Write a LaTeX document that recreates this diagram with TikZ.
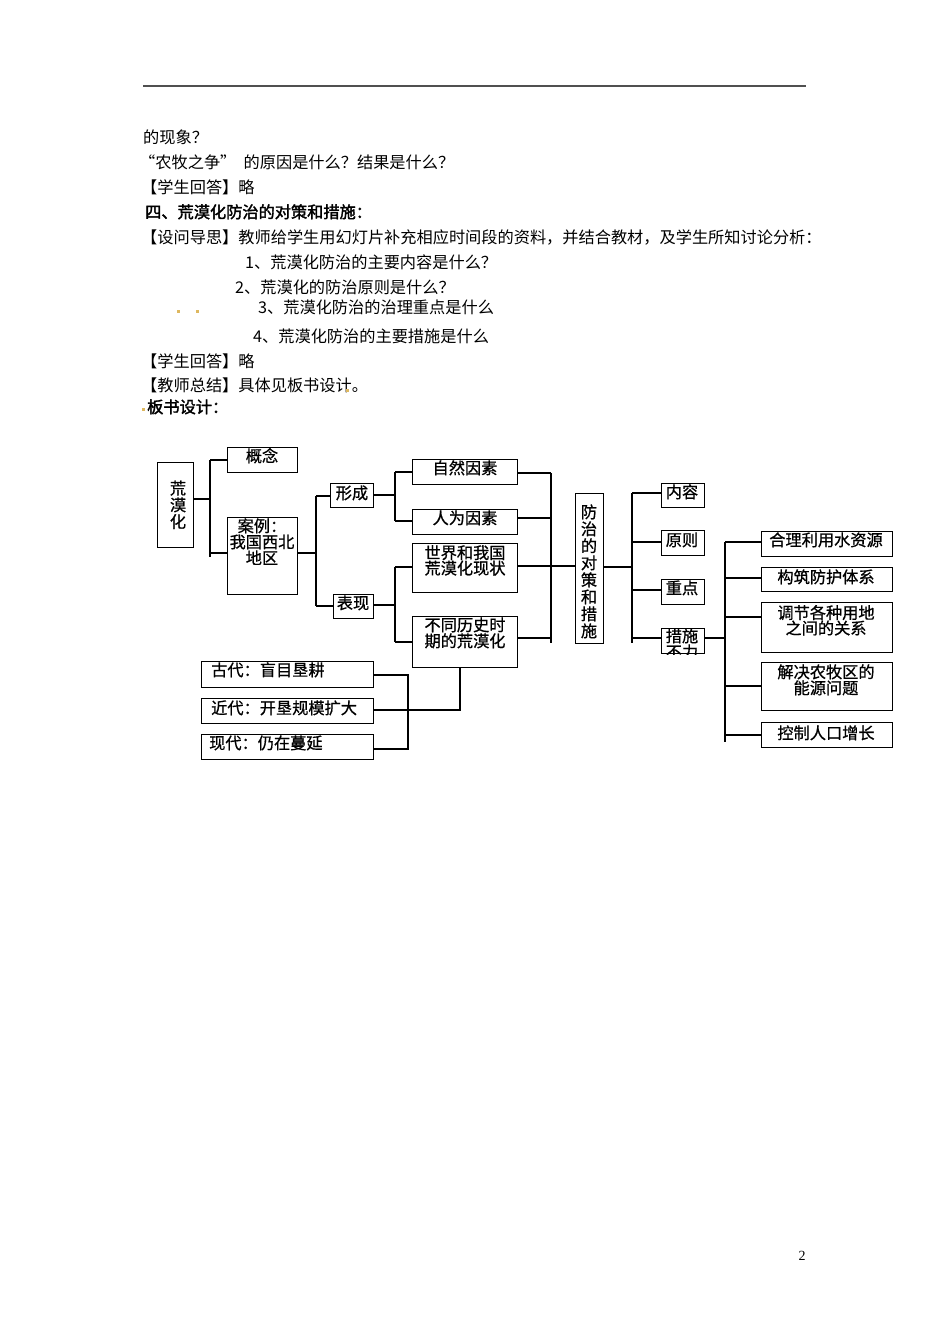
\documentclass[tikz,border=0pt]{standalone}
\usepackage{fontspec}
\setmainfont{Liberation Serif}
\newfontfamily\song{Noto Sans CJK SC}
\newfontfamily\songb{Noto Sans CJK SC}[FakeBold=2]
\newfontfamily\hei{Noto Sans CJK SC}[FakeBold=0.8]
\definecolor{rulegray}{RGB}{80,80,80}
\definecolor{dotgold}{RGB}{222,184,96}
\newcommand\lnx[1]{\rule{0pt}{12pt}\smash{#1}}
\tikzset{
  body/.style={inner sep=0pt, anchor=west, font=\song\fontsize{16.2}{16.2}\selectfont},
  bodyb/.style={inner sep=0pt, anchor=west, font=\songb\fontsize{16.2}{16.2}\selectfont},
  bx/.style={draw=black, line width=1.3pt, inner sep=0pt, anchor=north west},
  dt/.style={inner sep=0pt, align=center, font=\hei\fontsize{16.2}{16}\selectfont},
  lsp/.style={font=\hei\fontsize{16.2}{#1}\selectfont},
  dtl/.style={inner sep=0pt, anchor=west, font=\hei\fontsize{16.2}{16}\selectfont},
  cn/.style={line width=1.1pt, draw=black},
  dotm/.style={fill=dotgold, draw=none},
}
\begin{document}
\begin{tikzpicture}[x=1pt,y=-1pt]
\fill[white] (0,0) rectangle (950,1344);
\useasboundingbox (0,0) rectangle (950,1344);

% header rule
\coordinate (hl1) at (143,86);
\coordinate (hl2) at (806,86);
\draw[line width=2pt, rulegray] (hl1) -- (hl2);

% body text
\node[body] (p1) at (143,137) {\lnx{的现象？}};
\node[body] (p2) at (139,162) {\lnx{“农牧之争”\ \ 的原因是什么？结果是什么？}};
\node[body] (p3) at (141,187) {\lnx{【学生回答】略}};
\node[bodyb] (p4) at (145,212) {\lnx{四、荒漠化防治的对策和措施：}};
\node[body] (p5) at (141,237) {\lnx{【设问导思】教师给学生用幻灯片补充相应时间段的资料，并结合教材，及学生所知讨论分析：}};
\node[body] (q1) at (245,262) {\lnx{1、荒漠化防治的主要内容是什么？}};
\node[body] (q2) at (235,287) {\lnx{2、荒漠化的防治原则是什么？}};
\node[body] (q3) at (258,307) {\lnx{3、荒漠化防治的治理重点是什么}};
\node[body] (q4) at (253,336) {\lnx{4、荒漠化防治的主要措施是什么}};
\node[body] (p6) at (141,361) {\lnx{【学生回答】略}};
\node[body] (p7) at (141,385) {\lnx{【教师总结】具体见板书设计。}};
\node[bodyb] (p8) at (147,407) {\lnx{板书设计：}};

% small gold marks
\fill[dotm] (176.5,309.5) rectangle (179.5,312.5);
\fill[dotm] (195.5,309.5) rectangle (198.5,312.5);
\fill[dotm] (345.5,388.5) rectangle (348.5,391.5);
\fill[dotm] (142,408) rectangle (144.5,411);

% page number
\node[inner sep=0pt, font=\fontsize{14}{14}\selectfont] (pg) at (802,1256) {2};

% ---------- boxes ----------
\node[bx, minimum width=36, minimum height=85] (hmh) at (157,462) {};
\node[bx, minimum width=70, minimum height=25] (gn) at (227,447) {};
\node[bx, minimum width=70, minimum height=77] (al) at (227,517) {};
\node[bx, minimum width=43, minimum height=24] (xc) at (330,483) {};
\node[bx, minimum width=40, minimum height=24] (bxn) at (333,594) {};
\node[bx, minimum width=105, minimum height=25] (zr) at (412,459) {};
\node[bx, minimum width=105, minimum height=25] (rw) at (412,509) {};
\node[bx, minimum width=105, minimum height=49] (sj) at (412,543) {};
\node[bx, minimum width=105, minimum height=51] (bt) at (412,616) {};
\node[bx, minimum width=28, minimum height=150] (fz) at (575,493) {};
\node[bx, minimum width=43, minimum height=24] (nr) at (661,483) {};
\node[bx, minimum width=43, minimum height=25] (yz) at (661,530) {};
\node[bx, minimum width=43, minimum height=25] (zd) at (661,579) {};
\node[bx, minimum width=43, minimum height=25] (cs) at (661,628) {};
\node[bx, minimum width=131, minimum height=25] (s1) at (761,531) {};
\node[bx, minimum width=131, minimum height=24] (s2) at (761,567) {};
\node[bx, minimum width=131, minimum height=50] (s3) at (761,602) {};
\node[bx, minimum width=131, minimum height=48] (s4) at (761,662) {};
\node[bx, minimum width=131, minimum height=25] (s5) at (761,722) {};
\node[bx, minimum width=172, minimum height=26] (g1) at (201,661) {};
\node[bx, minimum width=172, minimum height=25] (g2) at (201,698) {};
\node[bx, minimum width=172, minimum height=25] (g3) at (201,734) {};

% ---------- box texts ----------
\node[dt, lsp=16.7] (t-hmh) at (178,505) {\lnx{荒}\\\lnx{漠}\\\lnx{化}};
\node[dt] (t-gn) at (262,456) {\lnx{概念}};
\node[dt] (t-al) at (262,542) {\lnx{案例：}\\\lnx{我国西北}\\\lnx{地区}};
\node[dt] (t-xc) at (352,493) {\lnx{形成}};
\node[dt] (t-bx) at (353,603) {\lnx{表现}};
\node[dt] (t-zr) at (465,468) {\lnx{自然因素}};
\node[dt] (t-rw) at (465,518) {\lnx{人为因素}};
\node[dt, lsp=15.5] (t-sj) at (465,560.5) {\lnx{世界和我国}\\\lnx{荒漠化现状}};
\node[dt] (t-bt) at (465,633) {\lnx{不同历史时}\\\lnx{期的荒漠化}};
\node[dt, lsp=17] (t-fz) at (589,571.5) {\lnx{防}\\\lnx{治}\\\lnx{的}\\\lnx{对}\\\lnx{策}\\\lnx{和}\\\lnx{措}\\\lnx{施}};
\node[dt] (t-nr) at (682,492) {\lnx{内容}};
\node[dt] (t-yz) at (682,540) {\lnx{原则}};
\node[dt] (t-zd) at (682,588) {\lnx{重点}};
\node[dt] (t-cs) at (682,636) {\lnx{措施}};
\begin{scope}
  \clip (cs.north west) rectangle (cs.south east);
  \node[dt] (t-cs2) at (682,652) {\lnx{不力}};
\end{scope}
\node[dt] (t-s1) at (826,540) {\lnx{合理利用水资源}};
\node[dt] (t-s2) at (826,577) {\lnx{构筑防护体系}};
\node[dt, lsp=15.5] (t-s3) at (826,620.5) {\lnx{调节各种用地}\\\lnx{之间的关系}};
\node[dt] (t-s4) at (826,680) {\lnx{解决农牧区的}\\\lnx{能源问题}};
\node[dt] (t-s5) at (826,733) {\lnx{控制人口增长}};
\node[dtl] (t-g1) at (211,670) {\lnx{古代：盲目垦耕}};
\node[dtl] (t-g2) at (211,708) {\lnx{近代：开垦规模扩大}};
\node[dtl] (t-g3) at (209,743) {\lnx{现代：仍在蔓延}};

% ---------- connectors ----------
\coordinate (ja1) at (210,460);
\coordinate (ja2) at (210,557);
\coordinate (ja3) at (210,499);
\coordinate (ja4) at (210,553);
\draw[cn] (ja1) -- (ja2);
\draw[cn] (ja1) -- (gn.west |- ja1);
\draw[cn] (ja4) -- (al.west |- ja4);
\draw[cn] (hmh.east |- ja3) -- (ja3);

\coordinate (jb1) at (316,496);
\coordinate (jb2) at (316,606);
\coordinate (jb3) at (316,553);
\draw[cn] (al.east |- jb3) -- (jb3);
\draw[cn] (jb1) -- (jb2);
\draw[cn] (jb1) -- (xc.west |- jb1);
\draw[cn] (jb2) -- (bxn.west |- jb2);

\coordinate (jc1) at (395,472);
\coordinate (jc2) at (395,521);
\coordinate (jc3) at (395,495);
\draw[cn] (xc.east |- jc3) -- (jc3);
\draw[cn] (jc1) -- (jc2);
\draw[cn] (jc1) -- (zr.west |- jc1);
\draw[cn] (jc2) -- (rw.west |- jc2);

\coordinate (jd1) at (395,567);
\coordinate (jd2) at (395,642);
\coordinate (jd3) at (395,605);
\draw[cn] (bxn.east |- jd3) -- (jd3);
\draw[cn] (jd1) -- (jd2);
\draw[cn] (jd1) -- (sj.west |- jd1);
\draw[cn] (jd2) -- (bt.west |- jd2);

\coordinate (je1) at (551,473);
\coordinate (je2) at (551,643);
\coordinate (je3) at (551,518);
\coordinate (je4) at (551,566);
\coordinate (je5) at (551,638);
\draw[cn] (je1) -- (je2);
\draw[cn] (zr.east |- je1) -- (je1);
\draw[cn] (rw.east |- je3) -- (je3);
\draw[cn] (sj.east |- je4) -- (fz.west |- je4);
\draw[cn] (bt.east |- je5) -- (je5);

\coordinate (jf1) at (632,493);
\coordinate (jf2) at (632,643);
\coordinate (jf3) at (632,567);
\coordinate (jf4) at (632,542);
\coordinate (jf5) at (632,590);
\coordinate (jf6) at (632,638);
\draw[cn] (fz.east |- jf3) -- (jf3);
\draw[cn] (jf1) -- (jf2);
\draw[cn] (jf1) -- (nr.west |- jf1);
\draw[cn] (jf4) -- (yz.west |- jf4);
\draw[cn] (jf5) -- (zd.west |- jf5);
\draw[cn] (jf6) -- (cs.west |- jf6);

\coordinate (jg0) at (725,638);
\coordinate (jg1) at (725,542);
\coordinate (jg2) at (725,742);
\coordinate (jg3) at (725,578);
\coordinate (jg4) at (725,617);
\coordinate (jg5) at (725,686);
\coordinate (jg6) at (725,735);
\draw[cn] (cs.east |- jg0) -- (jg0);
\draw[cn] (jg1) -- (jg2);
\draw[cn] (jg1) -- (s1.west |- jg1);
\draw[cn] (jg3) -- (s2.west |- jg3);
\draw[cn] (jg4) -- (s3.west |- jg4);
\draw[cn] (jg5) -- (s4.west |- jg5);
\draw[cn] (jg6) -- (s5.west |- jg6);

\coordinate (jh1) at (408,675);
\coordinate (jh2) at (408,749);
\draw[cn] (g1.east |- jh1) -- (jh1) -- (jh2) -- (g3.east |- jh2);

\coordinate (ji1) at (460,710);
\draw[cn] (g2.east |- ji1) -- (ji1) -- (ji1 |- bt.south);
\end{tikzpicture}
\end{document}
